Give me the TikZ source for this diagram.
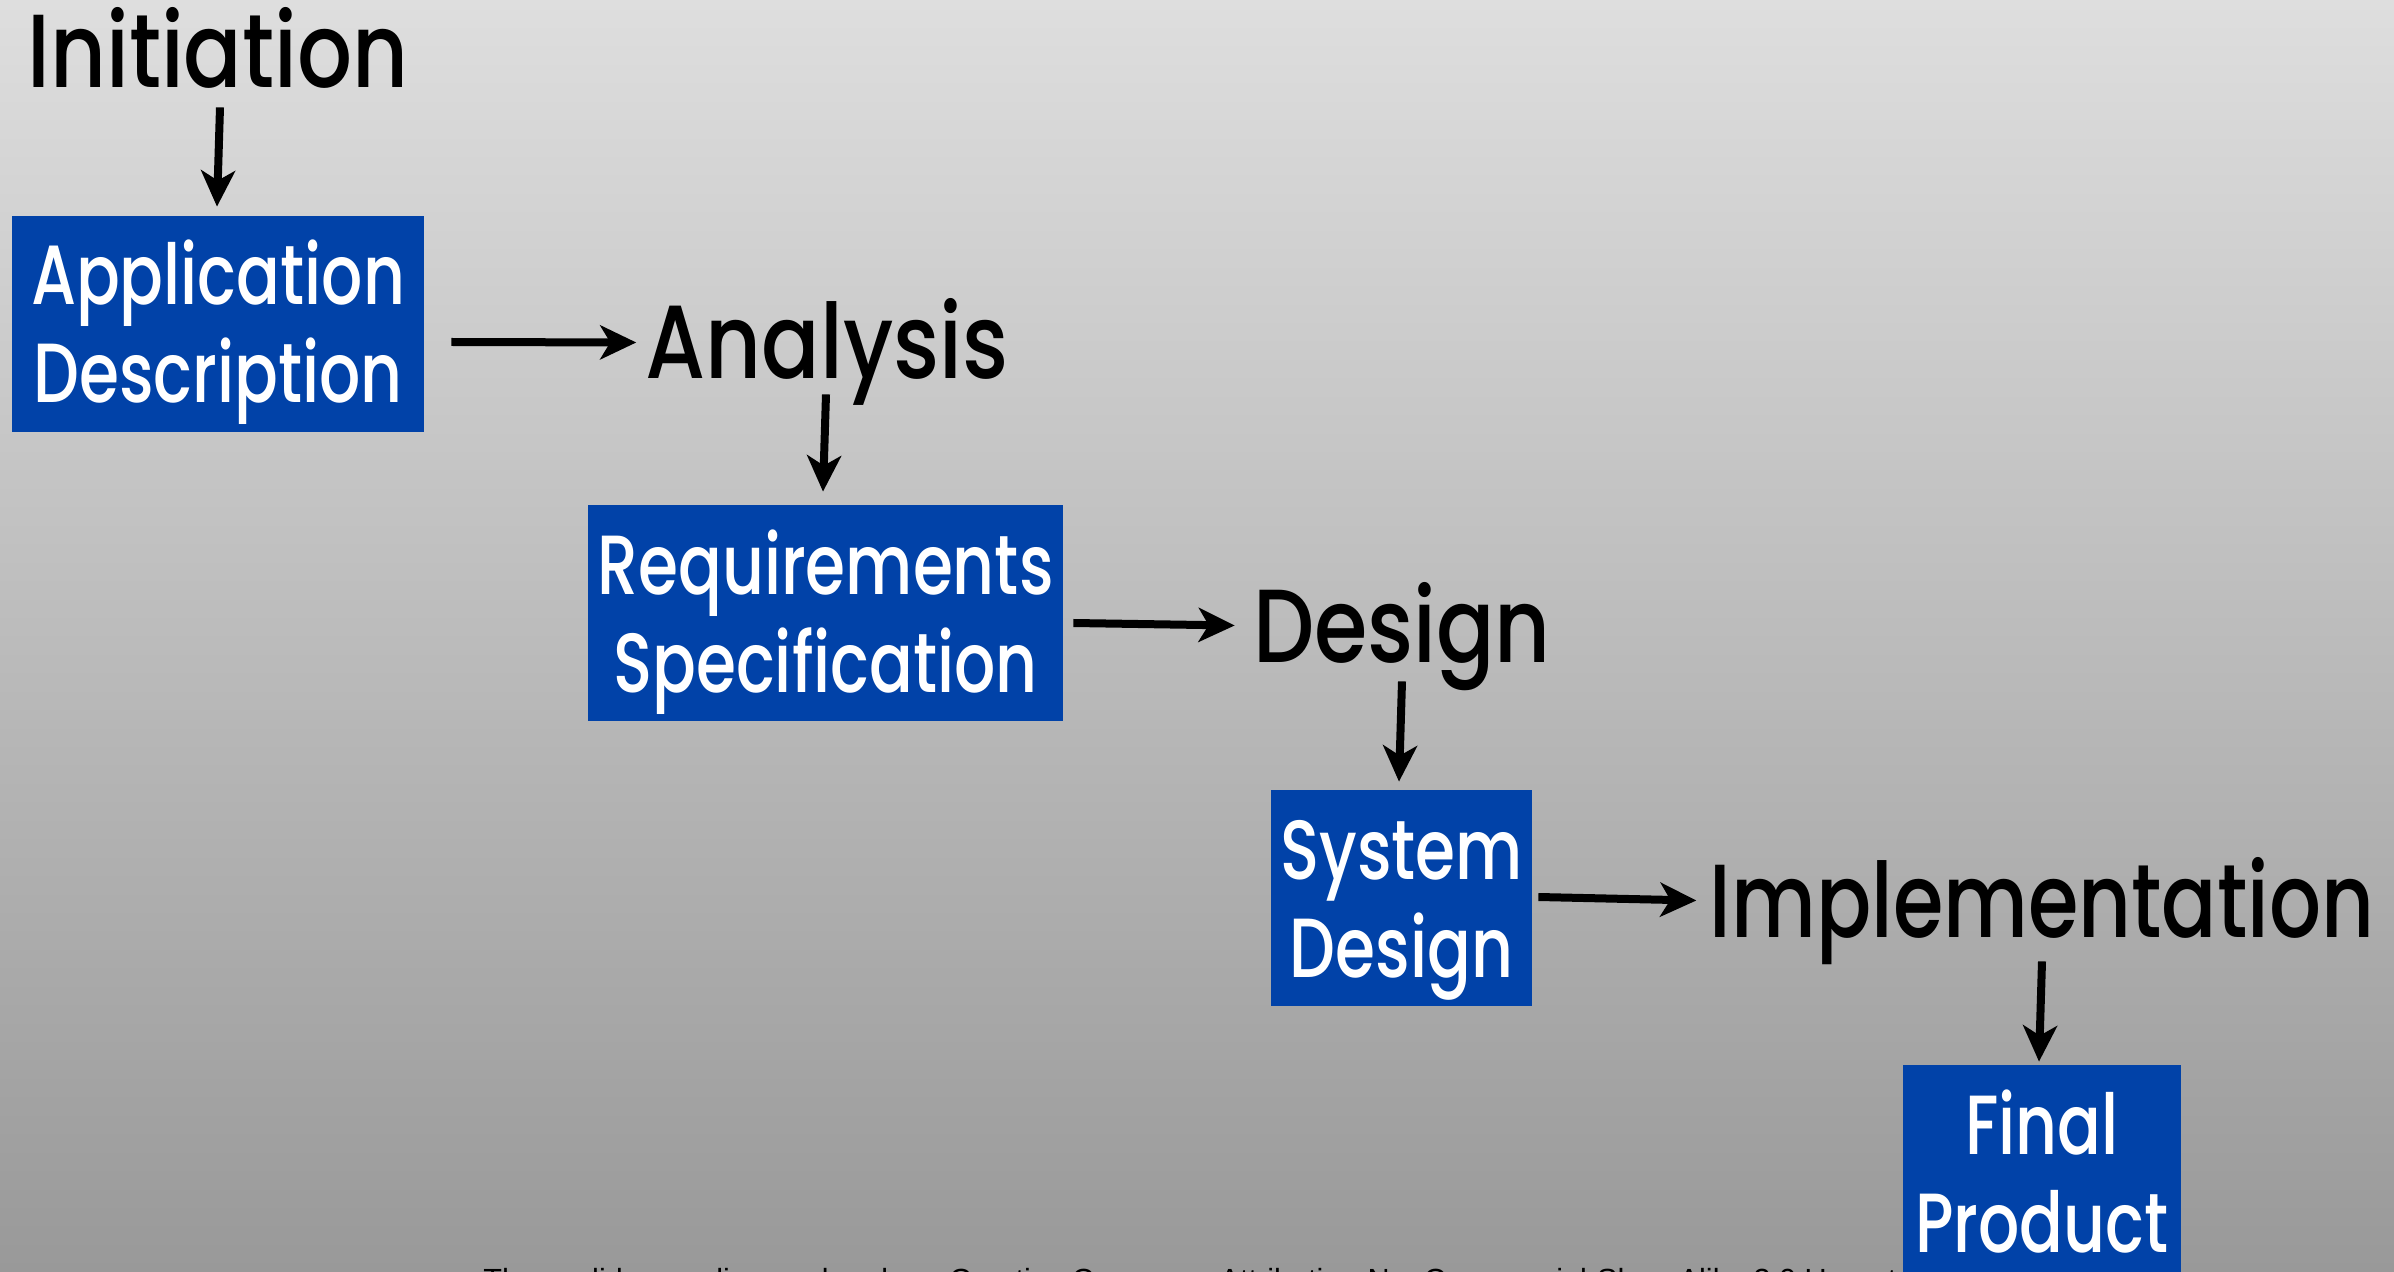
\documentclass[tikz,border=0pt]{standalone}
\usepackage{fontspec}
\setmainfont{Poppins}
\setsansfont{Liberation Sans}
\newfontfamily\stagefont[FakeStretch=0.83]{Poppins Medium}
\newfontfamily\narrowstagefont[FakeStretch=0.785]{Poppins Medium}
\newfontfamily\docfont[FakeStretch=0.77]{Poppins Medium}
\usetikzlibrary{arrows.meta}
\definecolor{boxblue}{RGB}{1,66,168}
\definecolor{bgtop}{RGB}{222,222,222}
\definecolor{bgbottom}{RGB}{153,153,153}
\begin{document}
\begin{tikzpicture}[x=0.5pt,y=-0.5pt,
  stage/.style={inner sep=0pt, anchor=base, font=\stagefont\fontsize{52}{60}\selectfont,
    text height=36.5pt, text depth=0pt},
  doc/.style={fill=boxblue, text=white, inner sep=0pt, align=center,
    font=\docfont\fontsize{42}{49}\selectfont, minimum height=108pt,
    text height=91pt, text depth=12pt},
  arr/.style={line width=4pt, -{Stealth[length=18pt,width=17pt,inset=5pt]}}]

% canvas and background gradient
\clip (0,0) rectangle (2394,1272);
\shade[top color=bgtop, bottom color=bgbottom] (0,0) rectangle (2394,1272);

% licence line at the foot of the slide
\node[anchor=base west, inner sep=0pt, font=\sffamily\fontsize{15.3}{18}\selectfont] (lic)
  at (483,1290) {These slides are licensed under a Creative Commons Attribution-NonCommercial-ShareAlike 3.0 Unported License};

% stages and their documents
\node[stage] (init) at (218,88) {Initiation};
\node[doc, minimum width=206pt] (appdesc) at (218,324) {Application\\Description};
\node[stage] (analysis) at (827,379) {Analysis};
\node[doc, minimum width=237.5pt] (reqspec) at (825.5,613) {Requirements\\Specification};
\node[stage] (design) at (1402,662) {Design};
\node[doc, minimum width=130.5pt] (sysdesign) at (1401.5,898) {System\\Design};
\node[stage, font=\narrowstagefont\fontsize{52}{60}\selectfont] (impl) at (2042,937) {Implementation};
\node[doc, minimum width=139pt] (final) at (2042,1173) {Final\\Product};

% flow arrows
\draw[arr] ([xshift=1pt,yshift=-9.5pt]init.south) -- ([xshift=-0.5pt,yshift=4.5pt]appdesc.north);
\draw[arr] ([xshift=13.5pt,yshift=-9pt]appdesc.east) -- ([xshift=-4.5pt]analysis.west);
\draw[arr] ([xshift=-0.5pt,yshift=-7.5pt]analysis.south) -- ([xshift=-1.25pt,yshift=6.5pt]reqspec.north);
\draw[arr] ([xshift=5pt,yshift=-5pt]reqspec.east) -- ([xshift=-9pt]design.west);
\draw[arr] ([yshift=-9.5pt]design.south) -- ([xshift=-1.25pt,yshift=4pt]sysdesign.north);
\draw[arr] ([xshift=3pt,yshift=0.5pt]sysdesign.east) -- ([xshift=-6.5pt]impl.west);
\draw[arr] ([yshift=-12pt]impl.south) -- ([xshift=-1.5pt,yshift=1.5pt]final.north);
\end{tikzpicture}
\end{document}
